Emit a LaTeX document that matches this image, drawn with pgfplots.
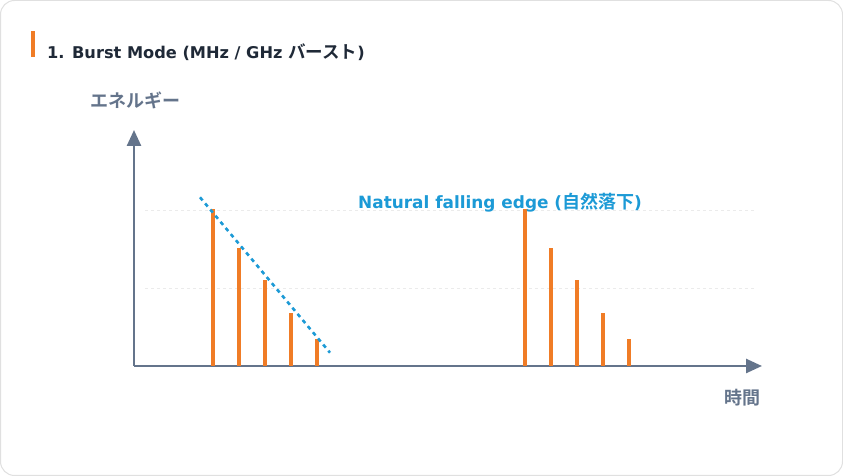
\documentclass[border=0pt]{standalone}
\usepackage{fontspec}
\setmainfont{Noto Sans CJK JP}[BoldFont={Noto Sans CJK JP Bold}]
\newfontfamily\lat{DejaVu Sans}
\usepackage{pgfplots}
\pgfplotsset{compat=1.18}
\usetikzlibrary{arrows.meta}
\definecolor{barorange}{RGB}{240,124,38}
\definecolor{slate}{RGB}{100,116,139}
\definecolor{titlecol}{RGB}{31,41,55}
\definecolor{edgeblue}{RGB}{28,154,214}
\begin{document}
\begin{tikzpicture}[x=1pt,y=1pt]
\draw[rounded corners=14pt, draw=black!12, fill=white, line width=1pt] (0.5,0.5) rectangle (842.5,475.5);
\fill[barorange] (31,445) rectangle (35,419);
\node[anchor=west, inner sep=0pt, text=titlecol, font=\bfseries] at (47,424) {{\fontsize{16.2}{18}\selectfont\lat\bfseries 1. Burst Mode (MHz / GHz }{\fontsize{17.5}{18}\selectfont バースト}{\fontsize{16.2}{18}\selectfont\lat\bfseries )}};
\node[anchor=west, inner sep=0pt, text=slate, font=\fontsize{18}{20}\selectfont\bfseries] at (90,376) {エネルギー};
\node[anchor=east, inner sep=0pt, text=slate, font=\fontsize{18}{20}\selectfont\bfseries] at (761,78) {時間};
\begin{axis}[
  at={(134pt,110pt)}, anchor=south west,
  scale only axis, width=628pt, height=236pt,
  xmin=0, xmax=628, ymin=0, ymax=236,
  axis lines=left,
  axis line style={draw=slate, line width=2.5pt, -{Triangle[width=14pt,length=16pt]}},
  xtick=\empty, ytick=\empty,
  clip=false,
]
\addplot[black!8, dashed, line width=0.8pt] coordinates {(11,156) (621,156)};
\addplot[black!8, dashed, line width=0.8pt] coordinates {(11,78) (621,78)};
\addplot[ycomb, barorange, line width=3.6pt, mark=none] coordinates {
(79,156.5) (105,117.5) (131,85.5) (157,53) (183,27)};
\addplot[ycomb, barorange, line width=3.6pt, mark=none] coordinates {
(391,156.5) (417,118) (443,85.5) (469,53) (495,27)};
\addplot[edgeblue, line width=2.6pt, dash pattern=on 4pt off 4pt, mark=none] coordinates {(66,168.7) (196,13.3)};
\node[anchor=west, inner sep=0pt, text=edgeblue, font=\bfseries] at (axis cs:224,163) {{\fontsize{16.9}{18}\selectfont\lat\bfseries Natural falling edge (}{\fontsize{18}{18}\selectfont 自然落下}{\fontsize{16.9}{18}\selectfont\lat\bfseries )}};
\end{axis}
\end{tikzpicture}
\end{document}
